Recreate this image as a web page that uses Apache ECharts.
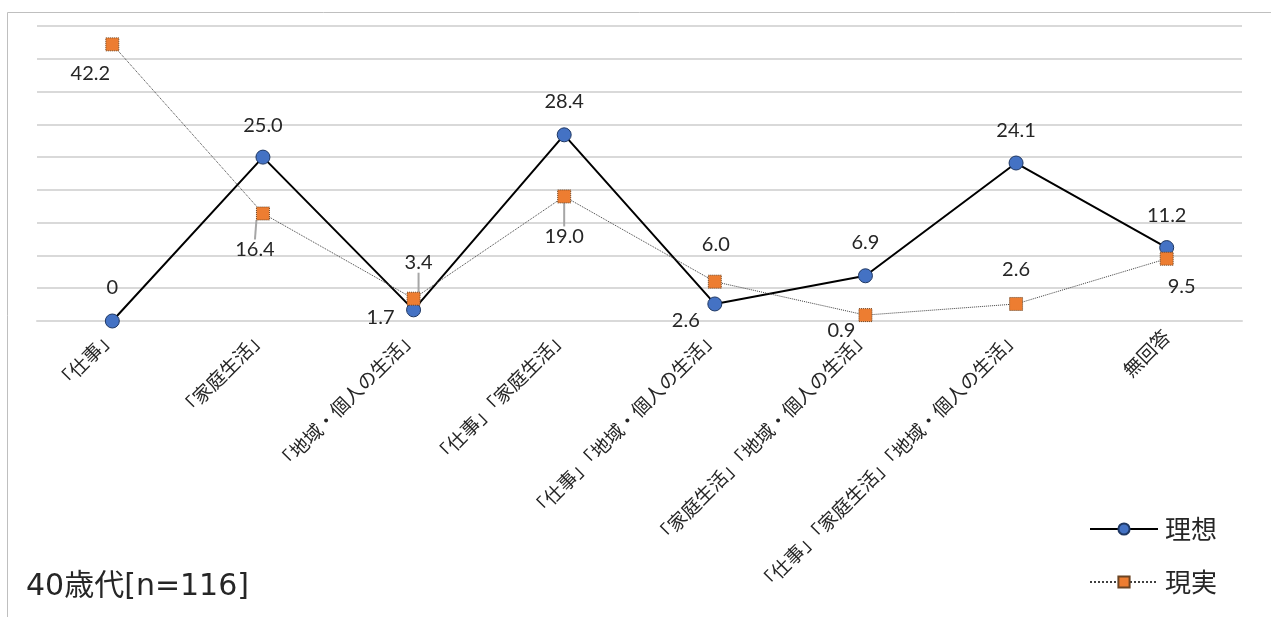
<!DOCTYPE html>
<html>
<head>
<meta charset="utf-8">
<script src="https://cdn.jsdelivr.net/npm/echarts@6/dist/echarts.min.js"></script>
<style>
  html, body { margin: 0; padding: 0; background: #fff; }
  #chart { width: 1271px; height: 617px; }
</style>
</head>
<body>
<div id="chart"></div>
<script>
// Categories and the two series (percent)
const categories = [
  '「仕事」',
  '「家庭生活」',
  '「地域・個人の生活」',
  '「仕事」「家庭生活」',
  '「仕事」「地域・個人の生活」',
  '「家庭生活」「地域・個人の生活」',
  '「仕事」「家庭生活」「地域・個人の生活」',
  '無回答'
];
const idealValues = [0, 25.0, 1.7, 28.4, 2.6, 6.9, 24.1, 11.2];
const realValues = [42.2, 16.4, 3.4, 19.0, 6.0, 0.9, 2.6, 9.5];
const idealLabels = ['0', '25.0', '1.7', '28.4', '2.6', '6.9', '24.1', '11.2'];
const realLabels = ['42.2', '16.4', '3.4', '19.0', '6.0', '0.9', '2.6', '9.5'];

// Label placement relative to each marker (dx, dy), and which get a leader line
const idealLabelShift = [[0, -33], [0, -32], [-33, 8], [0, -33], [-29, 17], [0, -33], [0, -32], [0, -32]];
const realLabelShift = [[-22, 29], [-8, 36], [5, -36], [0, 40], [1, -37], [-24, 15], [0, -34], [15, 28]];
const realLeader = [false, true, true, true, false, false, false, false];

const labelFont = { fontFamily: 'Lato, "Noto Sans", sans-serif', fontSize: 20, color: '#262626' };

const chart = echarts.init(document.getElementById('chart'), null, { renderer: 'canvas' });

chart.setOption({
  animation: false,
  backgroundColor: '#fff',
  graphic: [{
    type: 'rect',
    shape: { x: 7.5, y: 12.5, width: 1300, height: 700 },
    style: { fill: 'none', stroke: '#bfbfbf', lineWidth: 1 },
    z: -1
  }],
  title: {
    text: '40歳代[n=116]',
    left: 26,
    top: 572,
    padding: 0,
    textStyle: { fontFamily: '"DejaVu Sans", "Noto Sans CJK JP", sans-serif', fontSize: 30, fontWeight: 'normal', color: '#262626' }
  },
  legend: {
    orient: 'vertical',
    left: 1089,
    top: 516,
    padding: 0,
    itemWidth: 68,
    itemHeight: 14,
    itemGap: 27,
    textStyle: { fontFamily: '"Noto Sans CJK JP", sans-serif', fontSize: 26, color: '#262626', padding: [0, 0, 0, 2] },
    data: ['理想', '現実']
  },
  grid: { left: 37, right: 29, top: 26, bottom: 296, containLabel: false },
  xAxis: {
    type: 'category',
    data: categories,
    boundaryGap: true,
    axisLine: { show: true, lineStyle: { color: '#d9d9d9', width: 2 } },
    axisTick: { show: false },
    axisLabel: {
      rotate: 45,
      interval: 0,
      margin: 12,
      fontFamily: '"Noto Sans CJK JP", sans-serif',
      fontSize: 19,
      color: '#262626'
    }
  },
  yAxis: {
    type: 'value',
    min: 0,
    max: 45,
    interval: 5,
    axisLine: { show: false },
    axisTick: { show: false },
    axisLabel: { show: false },
    splitLine: { show: true, lineStyle: { color: '#d9d9d9', width: 2 } }
  },
  series: [
    {
      name: '理想',
      type: 'line',
      data: idealValues,
      symbol: 'circle',
      symbolSize: 14,
      z: 3,
      lineStyle: { color: '#000', width: 2 },
      itemStyle: { color: '#4472C4', borderColor: '#1f3864', borderWidth: 1 },
      label: {
        show: true,
        position: 'inside',
        formatter: p => idealLabels[p.dataIndex],
        ...labelFont
      },
      labelLayout: p => ({ dx: idealLabelShift[p.dataIndex][0], dy: idealLabelShift[p.dataIndex][1], hideOverlap: false })
    },
    {
      name: '現実',
      type: 'line',
      data: realValues.map((v, i) => ({
        value: v,
        labelLine: { show: realLeader[i], lineStyle: { color: '#a6a6a6', width: 2 } }
      })),
      symbol: 'rect',
      symbolSize: 13,
      z: 4,
      lineStyle: { color: '#404040', width: 1, type: 'dotted' },
      itemStyle: { color: '#ED7D31', borderColor: '#6b4423', borderWidth: 1, borderType: 'dotted' },
      labelLine: { show: false, lineStyle: { color: '#a6a6a6', width: 2 } },
      label: {
        show: true,
        position: 'inside',
        formatter: p => realLabels[p.dataIndex],
        ...labelFont
      },
      labelLayout: p => ({ dx: realLabelShift[p.dataIndex][0], dy: realLabelShift[p.dataIndex][1], hideOverlap: false })
    }
  ]
});
</script>
</body>
</html>
